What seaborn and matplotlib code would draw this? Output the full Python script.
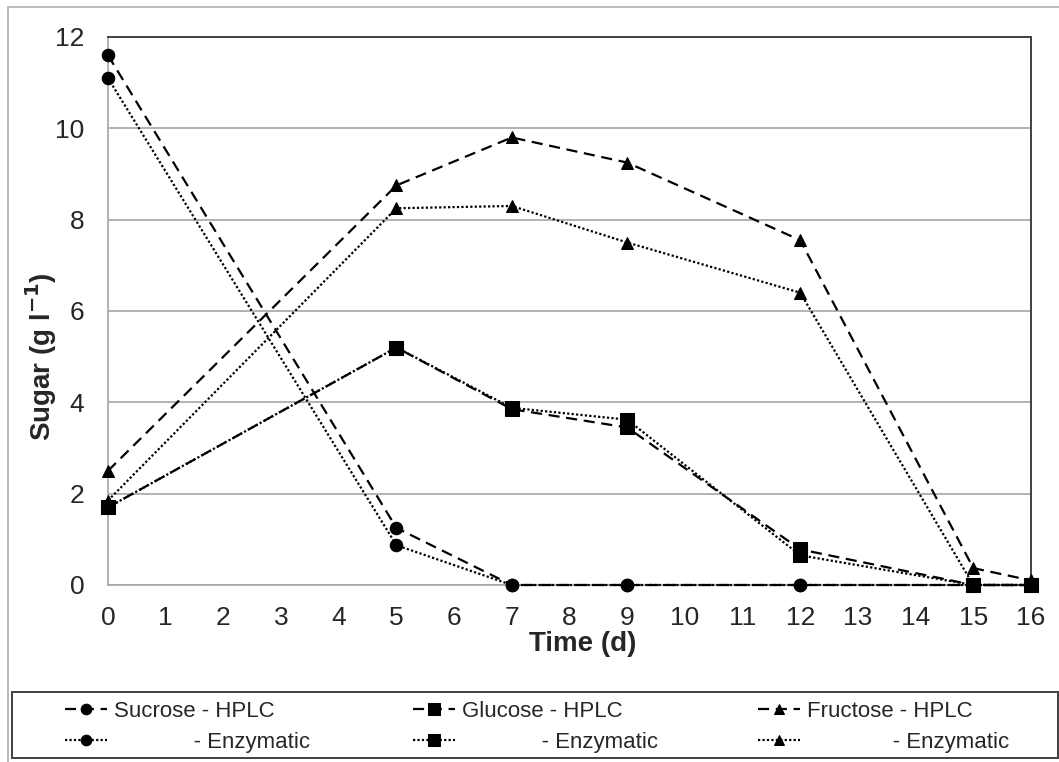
import matplotlib
matplotlib.use('Agg')
import matplotlib.pyplot as plt
import matplotlib.patches as mpatches
import seaborn as sns

# sampling days and sugar concentrations (g/l)
days = [0, 5, 7, 9, 12, 15, 16]
sucrose_hplc = [11.6, 1.25, 0.0, 0.0, 0.0, 0.0, 0.0]
sucrose_enz = [11.1, 0.87, 0.0, 0.0, 0.0, 0.0, 0.0]
glucose_hplc = [1.7, 5.2, 3.85, 3.45, 0.78, 0.0, 0.0]
glucose_enz = [1.7, 5.2, 3.88, 3.62, 0.65, 0.0, 0.0]
fructose_hplc = [2.5, 8.75, 9.8, 9.25, 7.55, 0.37, 0.1]
fructose_enz = [1.85, 8.25, 8.3, 7.5, 6.4, 0.0, 0.0]

labels = ['Sucrose - HPLC', ' ' * 13 + '- Enzymatic',
          'Glucose - HPLC', ' ' * 13 + '- Enzymatic',
          'Fructose - HPLC', ' ' * 14 + '- Enzymatic']
series = [sucrose_hplc, sucrose_enz, glucose_hplc, glucose_enz, fructose_hplc, fructose_enz]
markers = ['o', 'o', 's', 's', '^', '^']
msizes = [9, 9, 10, 10, 9, 9]
styles = [(0, (5, 3)), (0, (1, 1)), (0, (5, 3)), (0, (1, 1)), (0, (5, 3)), (0, (1, 1))]

sns.set_style('white')
plt.rcParams['font.family'] = ['Liberation Sans', 'DejaVu Sans']

W, H = 1059, 762
fig = plt.figure(figsize=(W / 100, H / 100), dpi=100)
ax = fig.add_axes([108 / W, 1 - 585 / H, (1031 - 108) / W, (585 - 37) / H])

# outer chart border
fig.patches.append(mpatches.Rectangle((8 / W, -0.01), 1.02, 1 - 7 / H + 0.01,
                                      transform=fig.transFigure, fill=False,
                                      edgecolor='#b0b0b0', linewidth=1.2))
# legend frame
fig.patches.append(mpatches.Rectangle((12 / W, 1 - 758 / H), 1046 / W, 66 / H,
                                      transform=fig.transFigure, fill=False,
                                      edgecolor='#404040', linewidth=1.4))

for vals, lab, mk, ms, ls in zip(series, labels, markers, msizes, styles):
    sns.lineplot(x=days, y=vals, ax=ax, color='black', marker=mk, markersize=ms,
                 markeredgecolor='black', linestyle=ls, linewidth=1.6, label=lab,
                 zorder=3, clip_on=False)

ax.set_xlim(0, 16)
ax.set_ylim(0, 12)
ax.set_xticks(range(0, 17))
ax.set_yticks(range(0, 13, 2))
ax.yaxis.grid(True, color='#a6a6a6', linewidth=1.2)
ax.xaxis.grid(False)
ax.tick_params(axis='both', labelsize=19, direction='out', length=6, width=1.2,
               color='#a6a6a6')
ax.tick_params(axis='y', pad=11)
ax.tick_params(axis='x', pad=9)
for s in ['left', 'bottom']:
    ax.spines[s].set_color('#a6a6a6')
    ax.spines[s].set_linewidth(1.2)
for s in ['top', 'right']:
    ax.spines[s].set_color('#404040')
    ax.spines[s].set_linewidth(1.4)

ax.set_xlabel('Time (d)', fontsize=20, fontweight='bold', va='center')
ax.xaxis.set_label_coords((583 - 108) / 923, -(644 - 585) / 548)
ax.set_ylabel('Sugar (g l$^{\\mathbf{-1}}$)', fontsize=20, fontweight='bold', va='center')
ax.yaxis.set_label_coords((41 - 108) / 923, (585 - 357) / 548)

handles, labs = ax.get_legend_handles_labels()
ax.get_legend().remove()
for i, x0 in enumerate([65, 413, 758]):
    fig.legend(handles[2 * i:2 * i + 2], labs[2 * i:2 * i + 2], loc='center left',
               bbox_to_anchor=(x0 / W, 1 - 727 / H), fontsize=16, frameon=False,
               handlelength=1.9, handletextpad=0.3, borderpad=0.0,
               borderaxespad=0.0, labelspacing=0.45, markerscale=0.85)

fig.savefig('out.png', dpi=100)
